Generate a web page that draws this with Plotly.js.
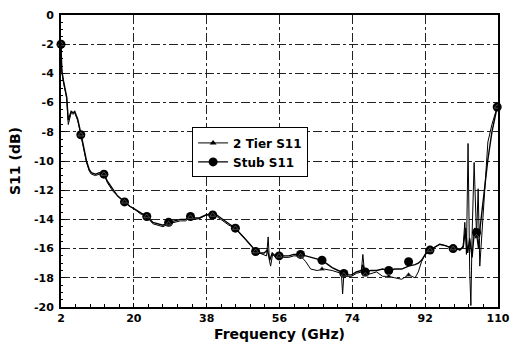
<!DOCTYPE html>
<html><head><meta charset="utf-8">
<script src="https://cdn.plot.ly/plotly-3.0.1.min.js"></script>
<style>html,body{margin:0;padding:0;background:#fff}#c{width:511px;height:351px}</style>
</head><body><div id="c"></div>
<script>
// 2 Tier S11 (thin trace)
const tierF = [2,2.2,2.6,3.0,3.4,3.8,4.2,4.5,5.0,5.4,5.8,6.1,6.5,6.9,7.5,8.3,9.0,9.5,10.5,11.5,12.6,13.5,14.9,16.0,17.7,19.0,20.2,21.5,23.2,24.7,26.0,27.2,28.6,30,31.5,32.8,34,35,36.2,37.8,39.5,40.5,41.9,43.5,45.1,46.5,47.7,49,50.1,51,52.2,52.8,53.2,53.5,53.8,54.3,55,55.9,57,58.3,59.5,61.2,62.5,63.7,65.3,67,69,70.5,71.3,71.6,71.9,72.5,73.8,75,76.2,76.6,77,77.5,78.5,80,81.5,83,84.5,86.2,87.9,89.5,90.3,91.1,92,93.2,94.4,95.6,97,98.9,99.5,100.6,101.4,101.8,102.2,102.6,103,103.3,103.6,104.1,104.7,105.1,105.5,106.3,107.5,108.5,109.8];
const tierS = [-2,-3.9,-4.6,-5.2,-5.7,-7.5,-7.0,-6.7,-6.8,-6.7,-7.0,-7.2,-7.7,-8.2,-8.9,-10.1,-10.7,-10.9,-11.0,-10.9,-10.9,-11.5,-12.1,-12.4,-12.8,-13.1,-13.3,-13.6,-13.8,-14.3,-14.4,-14.5,-14.3,-14.2,-14.1,-14.1,-13.85,-14.0,-13.95,-13.7,-13.7,-13.8,-14.1,-14.4,-14.6,-15.0,-15.4,-15.8,-16.2,-16.3,-16.4,-16.5,-15.2,-16.8,-17.2,-16.4,-16.6,-16.5,-16.6,-16.6,-16.5,-16.5,-16.9,-17.4,-17.5,-17.4,-17.5,-17.6,-17.7,-19.1,-17.8,-17.9,-17.9,-17.7,-17.6,-16.4,-17.6,-17.8,-17.7,-17.6,-17.9,-17.9,-18.0,-18.1,-17.8,-18.0,-17.6,-16.9,-16.4,-16.1,-15.9,-15.7,-15.8,-16.0,-16.0,-16.1,-15.8,-14.2,-16.4,-8.8,-17.5,-19.9,-15.0,-10.1,-15.2,-11.9,-17.2,-13.5,-8.7,-7.5,-6.3];
// Stub S11
const stubF = [2,2.2,2.6,3.0,3.4,3.8,4.2,4.5,5.0,5.4,5.8,6.1,6.5,6.9,7.5,8.3,9.0,9.5,10.5,11.5,12.6,13.5,14.9,16.0,17.7,19.0,20.2,21.5,23.2,24.7,26,27.2,28.6,30,31.5,32.8,34,35,36.2,37.8,39.5,40.5,41.9,43.5,45.1,46.5,47.7,49,50.1,51,52.2,53,53.6,54.2,55,55.9,57,58.3,59.5,61.2,62.5,63.7,65.3,66.5,68,69,70.5,71.9,73,73.8,75,76.2,76.6,77.2,78.5,80,81.5,83,84.5,86.2,87.9,89.5,90.3,91.1,92,93.2,94.4,95.6,97,98.9,99.5,100.6,101.4,102,102.5,103,103.6,104.2,104.7,105.2,105.6,106.5,107.5,108.5,109.8];
const stubS = [-2.0,-3.8,-4.5,-5.1,-5.6,-7.2,-6.9,-6.6,-6.7,-6.6,-6.9,-7.1,-7.6,-8.2,-8.9,-10.0,-10.6,-10.8,-10.9,-10.8,-10.9,-11.4,-12.0,-12.4,-12.8,-13.1,-13.3,-13.5,-13.8,-14.2,-14.3,-14.4,-14.2,-14.1,-14.0,-14.0,-13.8,-13.9,-13.9,-13.7,-13.6,-13.7,-14.0,-14.3,-14.6,-15.0,-15.4,-15.8,-16.2,-16.3,-16.3,-16.1,-16.8,-16.3,-16.5,-16.5,-16.5,-16.5,-16.4,-16.4,-16.5,-16.6,-16.7,-16.8,-17.1,-17.3,-17.5,-17.7,-17.8,-17.8,-17.6,-17.5,-17.1,-17.6,-17.5,-17.5,-17.4,-17.5,-17.4,-17.4,-17.2,-17.1,-17.0,-16.8,-16.4,-16.1,-15.9,-15.7,-15.8,-16.0,-16.0,-16.1,-15.9,-14.6,-16.3,-15.3,-16.6,-14.6,-14.9,-16.0,-14.5,-12.3,-9.9,-8.0,-6.3];
// marker positions
const markF = [2,6.9,12.6,17.7,23.2,28.6,34,39.5,45.1,50.1,55.9,61.2,66.5,71.9,77.2,83,87.9,93.2,98.9,104.7,109.8];
const stubMarkS = [-2.0,-8.2,-10.9,-12.8,-13.8,-14.2,-13.8,-13.7,-14.6,-16.2,-16.5,-16.4,-16.8,-17.7,-17.6,-17.5,-16.9,-16.1,-16.0,-14.9,-6.3];
const tierMarkS = [-2.0,-8.2,-10.9,-12.8,-13.8,-14.3,-13.85,-13.7,-14.6,-16.2,-16.5,-16.5,-17.4,-17.8,-17.8,-17.9,-17.8,-16.1,-16.0,-15.2,-6.3];
const xTicks = [2,20,38,56,74,92,110];
const yTicks = [0,-2,-4,-6,-8,-10,-12,-14,-16,-18,-20];
const names = ['2 Tier S11','Stub S11'];

const F = 'DejaVu Sans, Liberation Sans, Arial, sans-serif';
const traces = [
  {x: tierF, y: tierS, mode: 'lines', line: {color: '#000', width: 1}, showlegend: false, hoverinfo: 'skip'},
  {x: stubF, y: stubS, mode: 'lines', line: {color: '#000', width: 1.4}, showlegend: false, hoverinfo: 'skip'},
  {x: markF, y: stubMarkS, mode: 'markers', marker: {symbol: 'circle', size: 9, color: '#000'}, showlegend: false, cliponaxis: false},
  {x: markF, y: tierMarkS, mode: 'markers', marker: {symbol: 'triangle-up', size: 5, color: '#000', line:{color:'#888',width:0.5}}, showlegend: false, cliponaxis: false},
  {x: [null], y: [null], name: names[0], mode: 'lines+markers', line: {color: '#000', width: 1}, marker: {symbol: 'triangle-up', size: 6, color: '#000'}},
  {x: [null], y: [null], name: names[1], mode: 'lines+markers', line: {color: '#000', width: 1.4}, marker: {symbol: 'circle', size: 9, color: '#000'}}
];
const layout = {
  width: 511, height: 351,
  margin: {l: 61, r: 13, t: 15, b: 44},
  paper_bgcolor: '#fff', plot_bgcolor: '#fff',
  font: {family: F, color: '#000'},
  xaxis: {
    range: [2, 110], tickvals: xTicks, ticktext: xTicks.map(String),
    showgrid: true, gridcolor: '#222', griddash: 'dashdot', gridwidth: 1,
    showline: true, linecolor: '#000', linewidth: 2, mirror: true,
    ticks: 'inside', ticklen: 4, tickcolor: '#000',
    minor: {dtick: 3.6, tick0: 2, ticks: 'inside', ticklen: 3, tickcolor: '#000', showgrid: false},
    tickfont: {family: F, size: 11, weight: 'bold'},
    ticklabeloverflow: 'allow',
    title: {text: 'Frequency (GHz)', font: {family: F, size: 14, weight: 'bold'}, standoff: 5},
    zeroline: false
  },
  yaxis: {
    range: [-20, 0], tickvals: yTicks, ticktext: yTicks.map(String),
    showgrid: true, gridcolor: '#222', griddash: 'dashdot', gridwidth: 1,
    showline: true, linecolor: '#000', linewidth: 2, mirror: true,
    ticks: 'inside', ticklen: 4, tickcolor: '#000',
    minor: {dtick: 0.5, ticks: 'inside', ticklen: 2, tickcolor: '#000', showgrid: false},
    tickfont: {family: F, size: 11, weight: 'bold'},
    ticklabelstandoff: 3,
    ticklabeloverflow: 'allow',
    title: {text: 'S11 (dB)', font: {family: F, size: 14, weight: 'bold'}, standoff: 10},
    zeroline: false
  },
  legend: {
    x: 0.30, y: 0.615, xanchor: 'left', yanchor: 'top',
    bgcolor: '#fff', bordercolor: '#000', borderwidth: 1,
    font: {family: F, size: 12, weight: 'bold'},
    tracegroupgap: 0, itemwidth: 30
  },
  showlegend: true
};
Plotly.newPlot('c', traces, layout, {staticPlot: true, displayModeBar: false});
</script></body></html>
